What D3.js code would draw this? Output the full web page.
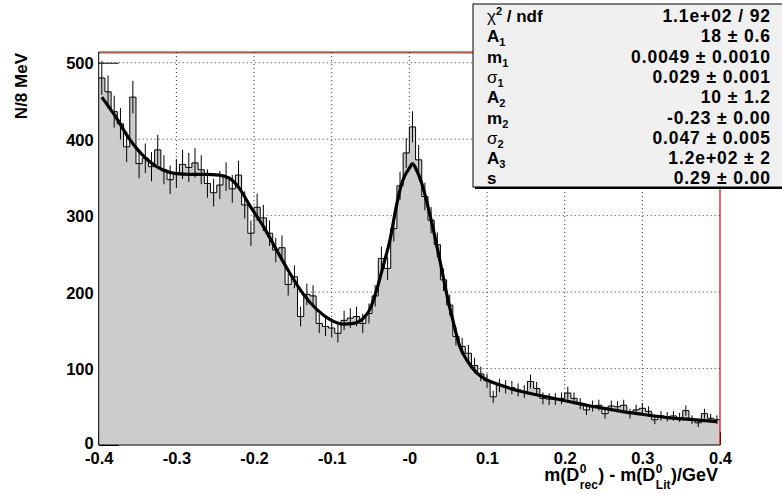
<!DOCTYPE html>
<html><head><meta charset="utf-8">
<script src="https://cdn.jsdelivr.net/npm/d3@7"></script>
<style>
body{margin:0;background:#fff;}
svg text{font-family:"Liberation Sans",Arial,Helvetica,sans-serif;font-weight:bold;}
</style></head>
<body><svg id="c" width="782" height="495"></svg>
<script>
// ---- data ----
const binStart = -0.4, binWidth = 0.008;
const counts = [480,462,436,420,390,455,368,375,364,386,
                360,347,355,367,363,369,360,342,330,340,
                351,335,353,314,277,311,297,277,255,258,
                210,220,168,197,195,159,155,153,146,163,
                166,168,159,172,195,244,231,283,339,382,
                416,373,325,294,262,216,183,142,129,120,
                104,93,84,63,78,76,75,72,70,83,
                74,61,60,60,61,68,61,54,46,51,
                52,41,51,50,52,41,46,48,44,33,
                38,37,38,36,45,33,29,41,35,33];
const fitX = [-0.396,-0.378,-0.361,-0.348,-0.335,-0.318,-0.300,-0.283,-0.262,-0.245,-0.232,-0.219,-0.206,-0.188,-0.171,-0.154,-0.137,-0.119,-0.102,-0.085,-0.072,-0.059,-0.051,-0.042,-0.034,-0.025,-0.016,-0.011,-0.006,0.000,0.004,0.010,0.016,0.022,0.031,0.040,0.048,0.057,0.065,0.074,0.087,0.100,0.117,0.130,0.155,0.181,0.207,0.233,0.258,0.284,0.310,0.336,0.362,0.396];
const fitY = [455,429,401,384,371,360,355,354,354,353,349,336,314,286,255,225,198,177,164,158,159,166,177,203,233,268,316,338,352,362,368,358,342,320,281,238,198,159,129,111,94,85,78.5,74,67.6,62,56.6,51,46.7,42.3,38.8,35.3,33.6,30.5];
const xTicks = [-0.4,-0.3,-0.2,-0.1,0,0.1,0.2,0.3,0.4];
const xTickLabels = ["-0.4","-0.3","-0.2","-0.1","-0","0.1","0.2","0.3","0.4"];
const yTicks = [0,100,200,300,400,500];
const statLabels = [["χ","2"," / ndf"],["A","1"],["m","1"],["σ","1"],["A","2"],["m","2"],["σ","2"],["A","3"],["s",""]];
const statValues = ["1.1e+02 / 92","18 ± 0.6","0.0049 ± 0.0010","0.029 ± 0.001","10 ± 1.2","-0.23 ± 0.00","0.047 ± 0.005","1.2e+02 ± 2","0.29 ± 0.00"];

// ---- drawing ----
const svg = d3.select("#c");
const L=98.7, R=720, T=52, B=445;
const x = d3.scaleLinear().domain([-0.4,0.4]).range([L,R]);
const y = d3.scaleLinear().domain([0,514]).range([B,T]);

// grid
const grid = svg.append("g").attr("stroke","#333").attr("stroke-dasharray","1,3").attr("stroke-width",1);
xTicks.slice(1,-1).forEach(t=>grid.append("line").attr("x1",x(t)).attr("x2",x(t)).attr("y1",T).attr("y2",B));
yTicks.slice(1).forEach(t=>grid.append("line").attr("x1",L).attr("x2",R).attr("y1",y(t)).attr("y2",y(t)));

// axes (ticks; later covered by histogram fill)
const yAxis = d3.axisLeft(y).tickValues(yTicks).tickSizeInner(-20).tickSizeOuter(0).tickFormat(d3.format("d"));
const gy = svg.append("g").attr("transform",`translate(${L},0)`).call(yAxis);
const xAxis = d3.axisBottom(x).tickValues(xTicks).tickSizeInner(-13).tickSizeOuter(0).tickFormat((d,i)=>xTickLabels[i]);
const gx = svg.append("g").attr("transform",`translate(0,${B})`).call(xAxis);
[gx,gy].forEach(g=>{g.select(".domain").remove();g.selectAll(".tick line").attr("stroke","#000");
  g.selectAll("text").attr("font-size",16.5).attr("fill","#000").attr("font-family",'"Liberation Sans",Arial,sans-serif').attr("font-weight","bold");});
gy.selectAll(".tick text").attr("x",-5).attr("dy","0.36em");
gy.selectAll(".tick text").filter(d=>d===0).attr("dy","0.2em");
gx.selectAll(".tick text").attr("y",7).attr("dy","0.71em");

// histogram fill
const bins = counts.map((c,i)=>({x0:binStart+i*binWidth,x1:binStart+(i+1)*binWidth,v:c}));
const stepPts = [];
bins.forEach(b=>{stepPts.push([x(b.x0),y(b.v)]);stepPts.push([x(b.x1),y(b.v)]);});
const area = [[x(binStart),y(0)],...stepPts,[x(binStart+counts.length*binWidth),y(0)]];
svg.append("path").attr("d",d3.line()(area)).attr("fill","#cccccc").attr("stroke","none");
svg.append("path").attr("d",d3.line()(stepPts)).attr("fill","none").attr("stroke","#000").attr("stroke-width",1);
// error bars
svg.append("g").selectAll("line").data(bins).join("line")
  .attr("x1",b=>x((b.x0+b.x1)/2)).attr("x2",b=>x((b.x0+b.x1)/2))
  .attr("y1",b=>y(b.v-Math.sqrt(b.v))).attr("y2",b=>y(b.v+Math.sqrt(b.v)))
  .attr("stroke","#000").attr("stroke-width",1);

// fit curve
const fitPts = fitX.map((v,i)=>[v,fitY[i]]);
svg.append("path").attr("d",d3.line().x(d=>x(d[0])).y(d=>y(d[1])).curve(d3.curveMonotoneX)(fitPts))
  .attr("fill","none").attr("stroke","#000").attr("stroke-width",3.2).attr("stroke-linejoin","round");

// frame
svg.append("line").attr("x1",L).attr("x2",R).attr("y1",T).attr("y2",T).attr("stroke","#cc0000").attr("stroke-width",1);
svg.append("line").attr("x1",L).attr("x2",R).attr("y1",T+1).attr("y2",T+1).attr("stroke","#400000").attr("stroke-width",0.6);
svg.append("line").attr("x1",R).attr("x2",R).attr("y1",T).attr("y2",B).attr("stroke","#dd0000").attr("stroke-width",1.2);
svg.append("line").attr("x1",L).attr("x2",L).attr("y1",T).attr("y2",B).attr("stroke","#000").attr("stroke-width",1);
svg.append("line").attr("x1",L).attr("x2",R).attr("y1",B).attr("y2",B).attr("stroke","#000").attr("stroke-width",1);

// axis titles
svg.append("text").attr("transform","translate(27,53) rotate(-90)").attr("text-anchor","end").attr("font-size",17).text("N/8 MeV");

// x title built from pieces: [main text] or [sup, sub] stacked
const titleParts = [{t:"m(D"},{sup:"0",sub:"rec"},{t:") - m(D"},{sup:"0",sub:"Lit"},{t:")/GeV"}];
const tg = svg.append("g");
let cx = 0; const base = 481;
titleParts.forEach(p=>{
  if(p.t){
    const e = tg.append("text").attr("x",cx).attr("y",base).attr("font-size",18).text(p.t);
    cx += e.node().getComputedTextLength();
  } else {
    const a = tg.append("text").attr("x",cx+0.5).attr("y",base-8).attr("font-size",12).text(p.sup);
    const b = tg.append("text").attr("x",cx+0.5).attr("y",base+8).attr("font-size",12).text(p.sub);
    cx += Math.max(a.node().getComputedTextLength(), b.node().getComputedTextLength()) + 1;
  }
});
tg.attr("transform",`translate(${718-cx},0)`);

// stats box
const sx=473, sy=4, sw=310, sh=183;
svg.append("rect").attr("x",sx+2).attr("y",sy+2).attr("width",sw).attr("height",sh).attr("fill","#000");
svg.append("rect").attr("x",sx).attr("y",sy).attr("width",sw).attr("height",sh).attr("fill","#f0f0f0").attr("stroke","#000").attr("stroke-width",1);
statLabels.forEach((lab,i)=>{
  const by = 22 + 20.3*i;
  const t = svg.append("text").attr("x",487).attr("y",by).attr("font-size",17);
  t.append("tspan").attr("font-weight",lab[0]==="σ"||lab[0]==="χ"?"normal":"bold").text(lab[0]);
  if(lab[1]){
    if(i===0) t.append("tspan").attr("font-size",11).attr("dy",-7).text(lab[1]);
    else t.append("tspan").attr("font-size",11).attr("dy",4).text(lab[1]);
  }
  if(lab[2]) t.append("tspan").attr("dy",i===0?7:-4).text(lab[2]);
  svg.append("text").attr("x",771).attr("y",by).attr("text-anchor","end").attr("font-size",17.5)
    .attr("letter-spacing","0.9px").text(statValues[i]);
});
</script></body></html>
